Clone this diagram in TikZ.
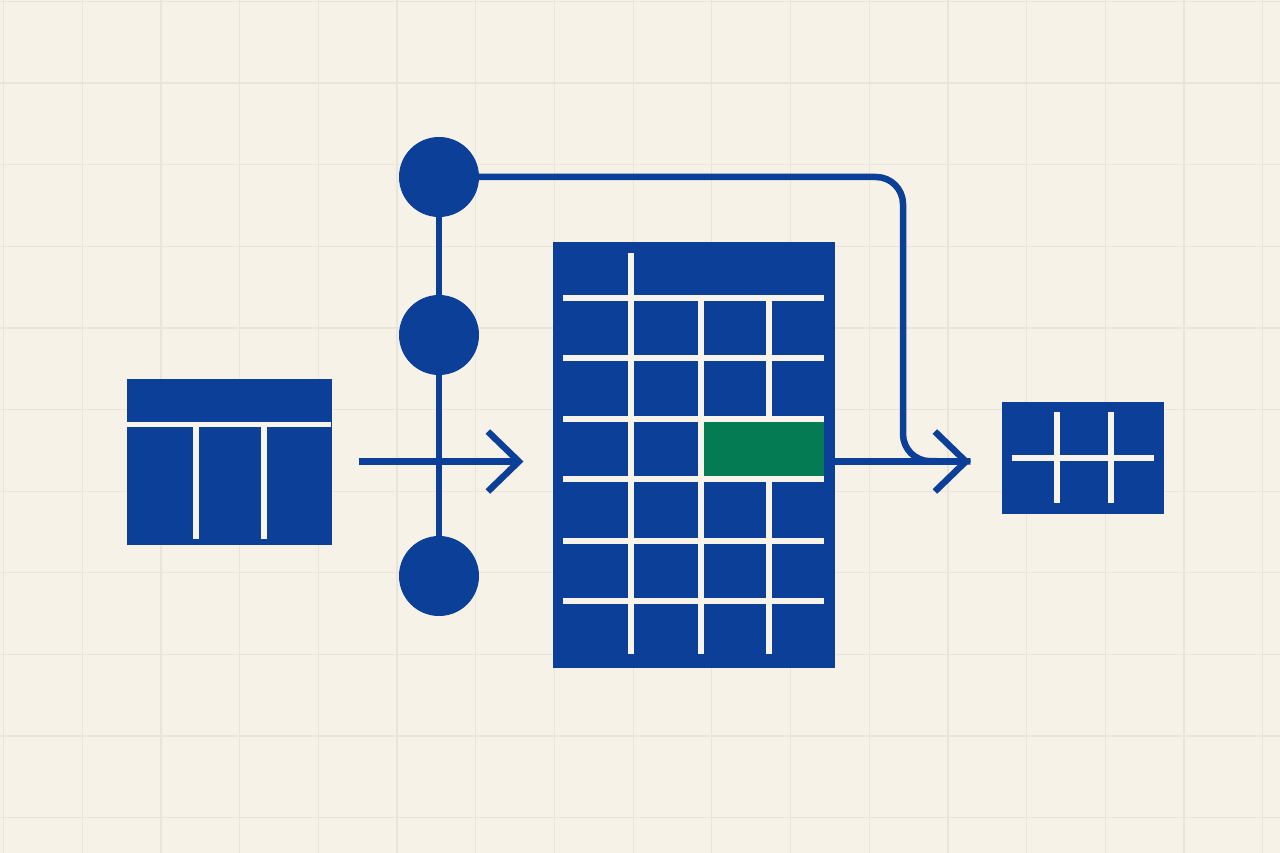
\documentclass[tikz,border=0pt]{standalone}
\usetikzlibrary{arrows.meta}
\definecolor{ink}{HTML}{0C3F98}
\definecolor{leaf}{HTML}{047B52}
\definecolor{paper}{HTML}{F6F2E7}
\definecolor{gridc}{HTML}{EAE5D8}
\definecolor{chalk}{HTML}{F8F4EC}
\tikzset{
  blk/.style={fill=ink,draw=ink,line width=1pt,inner sep=0pt},
  dot/.style={circle,fill=ink,draw=ink,line width=1pt,minimum size=79pt,inner sep=0pt},
  rule/.style={draw=chalk,line width=5.5pt},
  flow/.style={draw=ink,line width=6.5pt},
  tip/.style={-{Straight Barb[length=31pt,width=60pt]}},
  gridline/.style={draw=gridc,line width=1.2pt}
}
\begin{document}
\begin{tikzpicture}[x=1pt,y=-1pt]
   \fill[paper] (0,0) rectangle (1280,853);
   \useasboundingbox (0,0) rectangle (1280,853);
   \foreach \i in {0,...,16} \draw[gridline] ({3.5+78.7*\i},0) -- ++(0,853);
   \foreach \j in {0,...,10} \draw[gridline] (0,{1.5+81.6*\j}) -- ++(1280,0);
   % tables
   \node[blk,minimum width=204pt,minimum height=165pt] (src) at (229,461.5) {};
   \node[blk,minimum width=281pt,minimum height=424pt] (main) at (693.5,455) {};
   \node[blk,minimum width=161pt,minimum height=111pt] (out) at (1082.5,457.5) {};
   \draw[rule] (127,424.5) -- (331,424.5);
   \draw[rule,line width=6.5pt] (196,424) -- (196,539) (264,424) -- (264,539);
   \foreach \y in {298,358,419,479,541,601} \draw[rule] (563,\y) -- (824,\y);
   \draw[rule] (631,253) -- (631,654);
   \foreach \x in {701,769} \draw[rule] (\x,298) -- (\x,654);
   \fill[leaf] (704,421.8) rectangle (824,476.2);
   \draw[rule] (1012,458) -- (1154,458);
   \foreach \x in {1057,1111} \draw[rule] (\x,412) -- (\x,503);
   % dots on the spine
   \coordinate (c1at) at (439,177);
   \draw[flow] (c1at) -- (439,576);
   \node[dot] (c1) at (c1at) {};
   \node[dot] (c2) at (439,335) {};
   \node[dot] (c3) at (439,576) {};
   % connectors
   \draw[flow,rounded corners=27pt] (c1.east) -| (903,461) -- ([xshift=-31pt]out.west |- src.east);
   \draw[flow,tip] ([xshift=27pt]src.east) -- ([xshift=-29pt]main.west |- src.east);
   \draw[flow,tip] (main.east |- src.east) -- ([xshift=-31pt]out.west |- src.east);
\end{tikzpicture}
\end{document}
